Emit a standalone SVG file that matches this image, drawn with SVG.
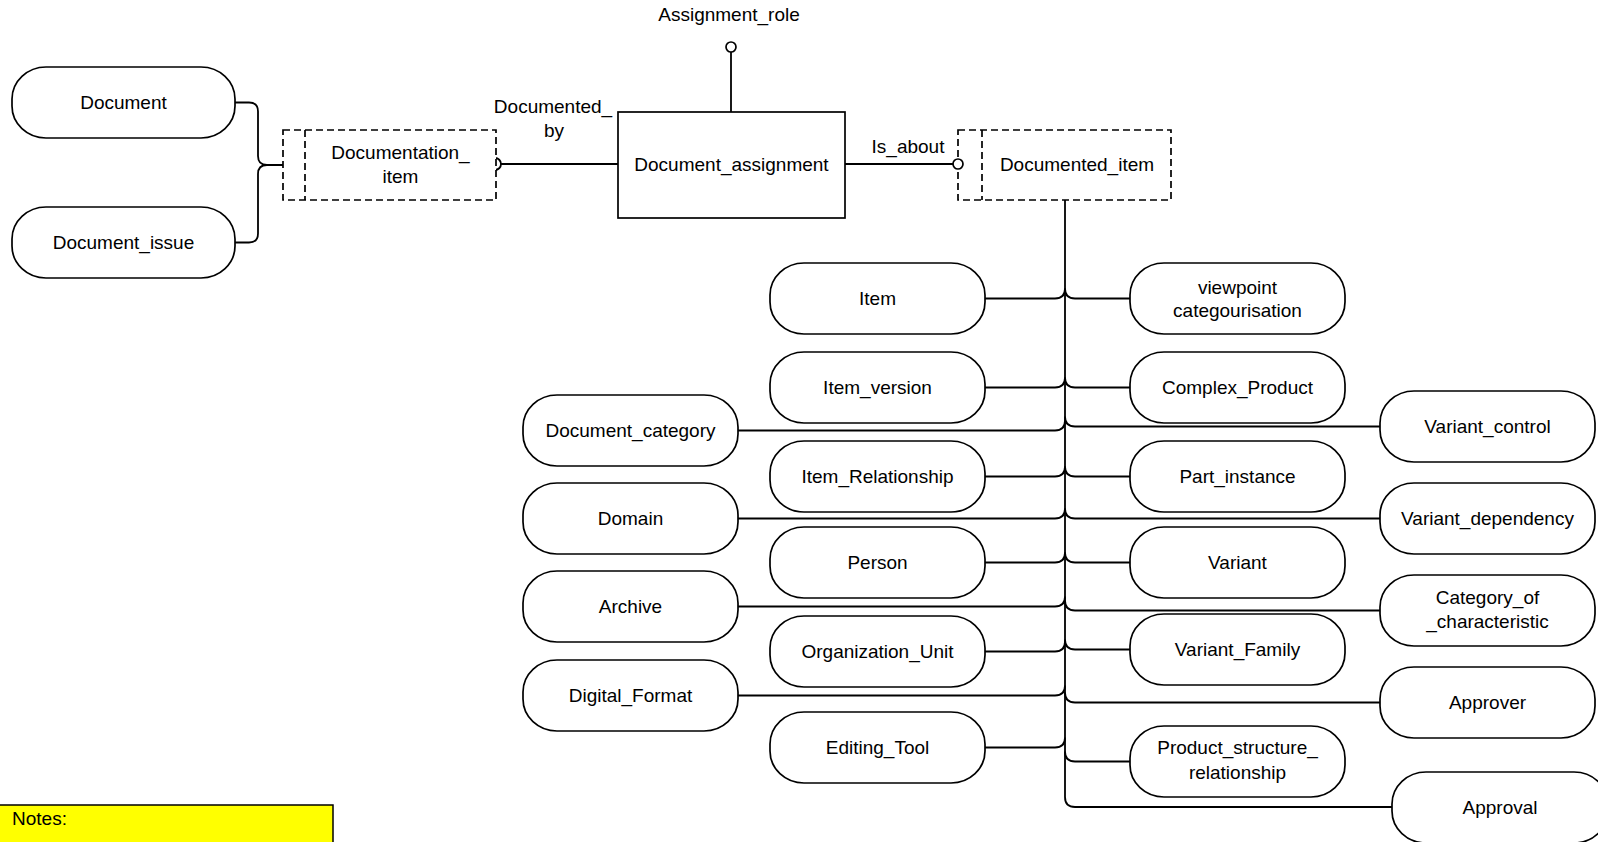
<svg xmlns="http://www.w3.org/2000/svg" width="1598" height="842" viewBox="0 0 1598 842">
<style>
  .node rect.n { fill: #ffffff; stroke: #000000; stroke-width: 1.7; }
  .dash { fill: #ffffff; stroke: #000000; stroke-width: 1.7; stroke-dasharray: 7 4; }
  .box { fill: #ffffff; stroke: #000000; stroke-width: 1.7; }
  text { font-family: "Liberation Sans", Arial, sans-serif; font-size: 19px; fill: #000000; text-anchor: middle; }
  .conn path, .conn line { fill: none; stroke: #000000; stroke-width: 1.8; }
  .dot { fill: #ffffff; stroke: #000000; stroke-width: 1.7; }
  .notes { fill: #ffff00; stroke: #000000; stroke-width: 1.5; }
</style>
<rect x="0" y="0" width="1598" height="842" fill="#ffffff"/>

<g id="connectors" class="conn">
  <path d="M235,102.5 H249 Q258,102.5 258,111.5 V156 Q258,165 267,165 H283"/>
  <path d="M235,242.5 H249 Q258,242.5 258,233.5 V174 Q258,165 267,165"/>
  <path d="M501,164 H618"/>
  <path d="M495,158 A6,6 0 0 1 495,170"/>
  <path d="M731,52 V112"/>
  <path d="M845,164 H953"/>
  <path d="M1065,200 V797 Q1065,807 1075,807 H1392"/>
  <path d="M985,298.5 H1055 Q1065,298.5 1065,288.5"/>
  <path d="M985,387.5 H1055 Q1065,387.5 1065,377.5"/>
  <path d="M738,430.5 H1055 Q1065,430.5 1065,420.5"/>
  <path d="M985,476.5 H1055 Q1065,476.5 1065,466.5"/>
  <path d="M738,518.5 H1055 Q1065,518.5 1065,508.5"/>
  <path d="M985,562.5 H1055 Q1065,562.5 1065,552.5"/>
  <path d="M738,606.5 H1055 Q1065,606.5 1065,596.5"/>
  <path d="M985,651.5 H1055 Q1065,651.5 1065,641.5"/>
  <path d="M738,695.5 H1055 Q1065,695.5 1065,685.5"/>
  <path d="M985,747.5 H1055 Q1065,747.5 1065,737.5"/>
  <path d="M1065,288.5 Q1065,298.5 1075,298.5 H1130"/>
  <path d="M1065,377.5 Q1065,387.5 1075,387.5 H1130"/>
  <path d="M1065,416.5 Q1065,426.5 1075,426.5 H1380"/>
  <path d="M1065,466.5 Q1065,476.5 1075,476.5 H1130"/>
  <path d="M1065,508.5 Q1065,518.5 1075,518.5 H1380"/>
  <path d="M1065,552.5 Q1065,562.5 1075,562.5 H1130"/>
  <path d="M1065,600.5 Q1065,610.5 1075,610.5 H1380"/>
  <path d="M1065,639.5 Q1065,649.5 1075,649.5 H1130"/>
  <path d="M1065,692.5 Q1065,702.5 1075,702.5 H1380"/>
  <path d="M1065,751.5 Q1065,761.5 1075,761.5 H1130"/>
</g>

<g id="lbl-assignment-role"><text x="729" y="21">Assignment_role</text></g>
<g id="lbl-documented-by"><text x="553" y="113">Documented_</text><text x="554" y="137">by</text></g>
<g id="lbl-is-about"><text x="908" y="153">Is_about</text></g>
<circle class="dot" cx="731" cy="47" r="5"/>

<g id="node-document" class="node"><rect class="n" x="12" y="67" width="223" height="71" rx="34" ry="32"/><text x="123.5" y="108.5">Document</text></g>
<g id="node-document-issue" class="node"><rect class="n" x="12" y="207" width="223" height="71" rx="34" ry="32"/><text x="123.5" y="248.5">Document_issue</text></g>

<g id="node-documentation-item" class="node">
  <rect class="dash" x="283" y="130" width="213" height="70"/>
  <line class="dash" x1="305" y1="130" x2="305" y2="200"/>
  <text x="400.5" y="158.5">Documentation_</text><text x="400.5" y="182.5">item</text>
</g>

<g id="node-document-assignment" class="node">
  <rect class="box" x="618" y="112" width="227" height="106"/>
  <text x="731.5" y="170.5">Document_assignment</text>
</g>

<g id="node-documented-item" class="node">
  <rect class="dash" x="958" y="130" width="213" height="70"/>
  <line class="dash" x1="982" y1="130" x2="982" y2="200"/>
  <text x="1077" y="170.5">Documented_item</text>
</g>
<circle class="dot" cx="958" cy="164" r="5"/>

<g id="node-item" class="node"><rect class="n" x="770" y="263" width="215" height="71" rx="34" ry="32"/><text x="877.5" y="304.5">Item</text></g>
<g id="node-item-version" class="node"><rect class="n" x="770" y="352" width="215" height="71" rx="34" ry="32"/><text x="877.5" y="393.5">Item_version</text></g>
<g id="node-item-relationship" class="node"><rect class="n" x="770" y="441" width="215" height="71" rx="34" ry="32"/><text x="877.5" y="482.5">Item_Relationship</text></g>
<g id="node-person" class="node"><rect class="n" x="770" y="527" width="215" height="71" rx="34" ry="32"/><text x="877.5" y="568.5">Person</text></g>
<g id="node-organization-unit" class="node"><rect class="n" x="770" y="616" width="215" height="71" rx="34" ry="32"/><text x="877.5" y="657.5">Organization_Unit</text></g>
<g id="node-editing-tool" class="node"><rect class="n" x="770" y="712" width="215" height="71" rx="34" ry="32"/><text x="877.5" y="753.5">Editing_Tool</text></g>

<g id="node-document-category" class="node"><rect class="n" x="523" y="395" width="215" height="71" rx="34" ry="32"/><text x="630.5" y="436.5">Document_category</text></g>
<g id="node-domain" class="node"><rect class="n" x="523" y="483" width="215" height="71" rx="34" ry="32"/><text x="630.5" y="524.5">Domain</text></g>
<g id="node-archive" class="node"><rect class="n" x="523" y="571" width="215" height="71" rx="34" ry="32"/><text x="630.5" y="612.5">Archive</text></g>
<g id="node-digital-format" class="node"><rect class="n" x="523" y="660" width="215" height="71" rx="34" ry="32"/><text x="630.5" y="701.5">Digital_Format</text></g>

<g id="node-viewpoint" class="node"><rect class="n" x="1130" y="263" width="215" height="71" rx="34" ry="32"/><text x="1237.5" y="294">viewpoint</text><text x="1237.5" y="316.5">categourisation</text></g>
<g id="node-complex-product" class="node"><rect class="n" x="1130" y="352" width="215" height="71" rx="34" ry="32"/><text x="1237.5" y="393.5">Complex_Product</text></g>
<g id="node-part-instance" class="node"><rect class="n" x="1130" y="441" width="215" height="71" rx="34" ry="32"/><text x="1237.5" y="482.5">Part_instance</text></g>
<g id="node-variant" class="node"><rect class="n" x="1130" y="527" width="215" height="71" rx="34" ry="32"/><text x="1237.5" y="568.5">Variant</text></g>
<g id="node-variant-family" class="node"><rect class="n" x="1130" y="614" width="215" height="71" rx="34" ry="32"/><text x="1237.5" y="655.5">Variant_Family</text></g>
<g id="node-product-structure" class="node"><rect class="n" x="1130" y="726" width="215" height="71" rx="34" ry="32"/><text x="1237.5" y="754">Product_structure_</text><text x="1237.5" y="778.5">relationship</text></g>

<g id="node-variant-control" class="node"><rect class="n" x="1380" y="391" width="215" height="71" rx="34" ry="32"/><text x="1487.5" y="432.5">Variant_control</text></g>
<g id="node-variant-dependency" class="node"><rect class="n" x="1380" y="483" width="215" height="71" rx="34" ry="32"/><text x="1487.5" y="524.5">Variant_dependency</text></g>
<g id="node-category-of-characteristic" class="node"><rect class="n" x="1380" y="575" width="215" height="71" rx="34" ry="32"/><text x="1487.5" y="604">Category_of</text><text x="1487.5" y="628">_characteristic</text></g>
<g id="node-approver" class="node"><rect class="n" x="1380" y="667" width="215" height="71" rx="34" ry="32"/><text x="1487.5" y="708.5">Approver</text></g>
<g id="node-approval" class="node"><rect class="n" x="1392" y="772" width="216" height="71" rx="34" ry="32"/><text x="1500" y="813.5">Approval</text></g>

<g id="notes">
  <rect class="notes" x="-1" y="805" width="334" height="50"/>
  <text x="12" y="825" style="text-anchor:start">Notes:</text>
</g>
</svg>
